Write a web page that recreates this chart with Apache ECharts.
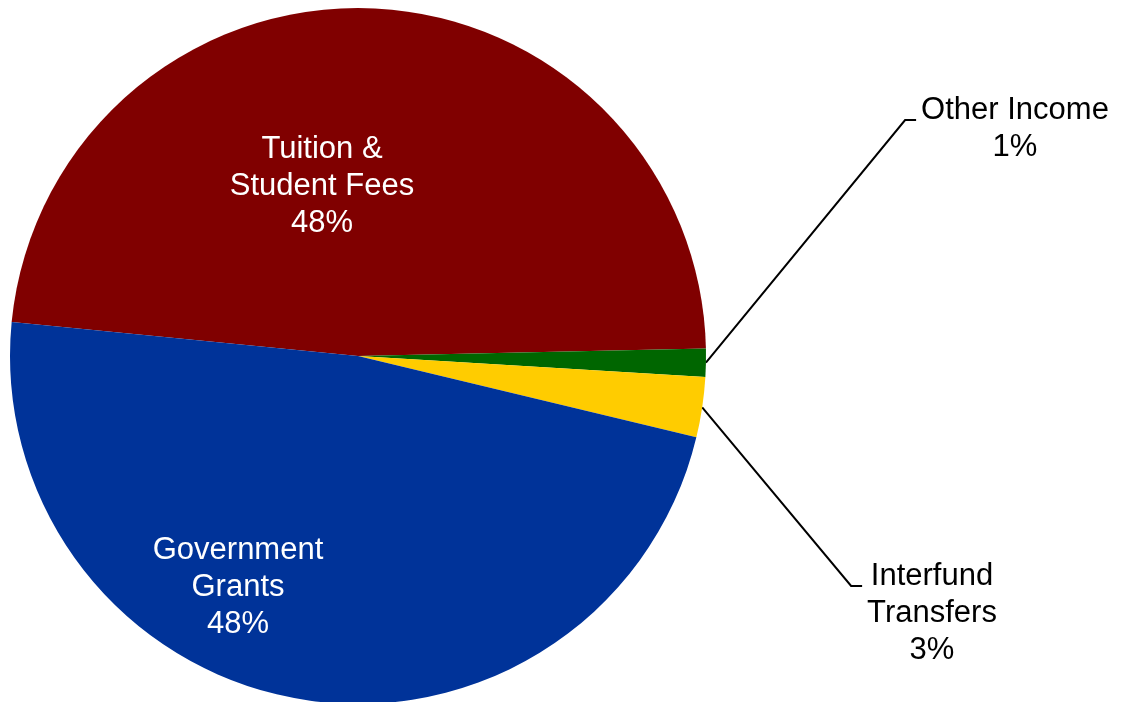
<!DOCTYPE html>
<html>
<head>
<meta charset="utf-8">
<script src="https://cdn.jsdelivr.net/npm/echarts@6/dist/echarts.min.js"></script>
<style>
html,body{margin:0;padding:0;background:#fff;}
#chart{width:1138px;height:702px;}
</style>
</head>
<body>
<div id="chart"></div>
<script>
// Data
var categories = ['Tuition &\nStudent Fees', 'Other Income', 'Interfund\nTransfers', 'Government\nGrants'];
var values = [48.1, 1.3, 2.8, 47.8];
var colors = ['#800000', '#006600', '#FFCC00', '#003399'];
var insideLabel = [true, false, false, true];

// label placement (layout/style only)
var labelCenters = [[322, 186], [1015, 129], [932, 613], [238, 587]];
var lineYOffset = [0, -9, -27, 0];

var chart = echarts.init(document.getElementById('chart'), null, {renderer: 'canvas'});

var seriesData = categories.map(function (name, i) {
  return {
    name: name,
    value: values[i],
    itemStyle: {color: colors[i]},
    label: {
      position: insideLabel[i] ? 'inside' : 'outside',
      color: insideLabel[i] ? '#ffffff' : '#000000'
    },
    labelLine: {show: !insideLabel[i]}
  };
});

chart.setOption({
  animation: false,
  backgroundColor: '#ffffff',
  series: [{
    type: 'pie',
    center: [358, 356],
    radius: 348,
    startAngle: 174.4,
    clockwise: true,
    avoidLabelOverlap: false,
    emphasis: {disabled: true},
    itemStyle: {borderWidth: 0},
    label: {
      show: true,
      fontFamily: 'Liberation Sans, Arial, sans-serif',
      fontSize: 31,
      lineHeight: 37,
      align: 'center',
      formatter: function (p) {
        return p.name + '\n' + Math.round(p.percent) + '%';
      }
    },
    labelLine: {
      show: true,
      length: 20,
      length2: 10,
      lineStyle: {color: '#000000', width: 2}
    },
    labelLayout: function (p) {
      var i = p.dataIndex;
      var c = labelCenters[i];
      var out = {x: c[0], y: c[1], align: 'center', verticalAlign: 'middle'};
      if (!insideLabel[i] && p.labelLinePoints && p.labelLinePoints.length) {
        var start = p.labelLinePoints[0];
        var left = c[0] - p.labelRect.width / 2;
        var ly = c[1] + lineYOffset[i];
        var end = left - 5;
        out.labelLinePoints = [
          [start[0], start[1]],
          [end - 11, ly],
          [end, ly]
        ];
      }
      return out;
    },
    data: seriesData
  }]
});
</script>
</body>
</html>
